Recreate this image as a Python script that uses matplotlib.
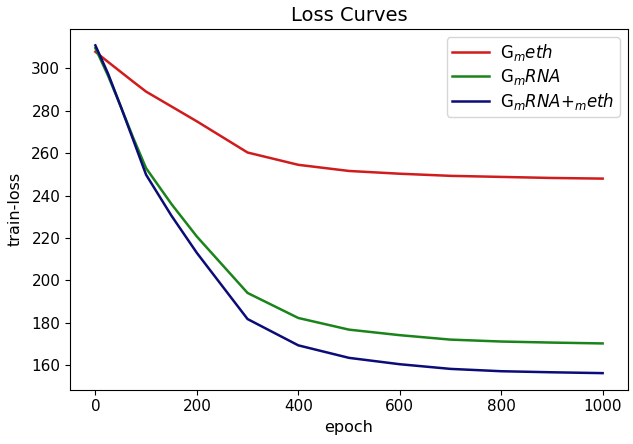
import matplotlib
matplotlib.use("Agg")
import matplotlib.pyplot as plt

epochs = [0, 25, 50, 75, 100, 150, 200, 300, 400, 500, 600, 700, 800, 900, 1000]
loss_meth = [307.8, 303, 298.3, 293.6, 289, 282, 275, 260.3, 254.5, 251.6, 250.3, 249.3, 248.8, 248.3, 248.0]
loss_rna = [309.5, 296.5, 282, 267, 252.9, 236, 220.7, 194.1, 182.3, 176.8, 174.2, 172.1, 171.2, 170.7, 170.3]
loss_both = [310.8, 297.5, 282, 266, 249.8, 230.5, 213, 181.8, 169.4, 163.5, 160.5, 158.3, 157.2, 156.7, 156.3]
labels = ['G$_m$$eth$', 'G$_m$$RNA$', 'G$_m$$RNA$+$_m$$eth$']

fig = plt.figure(figsize=(6.33, 4.44), dpi=100)
ax = fig.add_axes([0.1106, 0.1227, 0.8815, 0.812])
ax.plot(epochs, loss_meth, color='#d01c1c', lw=1.8, label=labels[0])
ax.plot(epochs, loss_rna, color='#1a841a', lw=1.8, label=labels[1])
ax.plot(epochs, loss_both, color='#0c0c78', lw=1.8, label=labels[2])
ax.set_title('Loss Curves', fontsize=14)
ax.set_xlabel('epoch', fontsize=11.5)
ax.set_ylabel('train-loss', fontsize=11.5, labelpad=6)
ax.tick_params(labelsize=11)
ax.set_xticks([0, 200, 400, 600, 800, 1000])
ax.set_yticks([160, 180, 200, 220, 240, 260, 280, 300])
ax.legend(loc='upper right', fontsize=12, handlelength=2.2, labelspacing=0.22,
          borderpad=0.3, handletextpad=0.7)
fig.savefig('out.png', dpi=100)
